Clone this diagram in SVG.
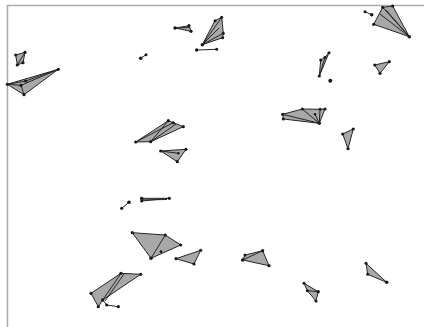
<svg xmlns="http://www.w3.org/2000/svg" width="424" height="327" viewBox="0 0 424 327">
<style>
.f{fill:#a8a8a8;stroke:#262626;stroke-width:1;stroke-linejoin:round}
.l{fill:none;stroke:#262626;stroke-width:1}
.d{fill:#1a1a1a}
.b{fill:none;stroke:#aaaaaa;stroke-width:1.5}
</style>
<rect width="424" height="327" fill="#fff"/>
<path class="b" d="M7.5,327 V5.5 H424"/>
<g id="n1"><polygon class="f" points="15.7,55 25,52.3 23,62.7 17.3,65"/><line class="l" x1="17.3" y1="65" x2="25" y2="52.3"/><g class="d"><circle cx="15.7" cy="55" r="1.6"/><circle cx="25" cy="52.3" r="1.6"/><circle cx="23" cy="62.7" r="1.6"/><circle cx="17.3" cy="65" r="1.6"/></g></g>
<g id="n2"><polygon class="f" points="7.3,84.3 58.3,69.3 24,94.7"/><polyline class="l" points="7.3,84.3 25.7,81 58.3,69.3"/><polyline class="l" points="7.3,84.3 21,85.3 58.3,69.3"/><line class="l" x1="21" y1="85.3" x2="24" y2="94.7"/><g class="d"><circle cx="7.3" cy="84.3" r="1.6"/><circle cx="58.3" cy="69.3" r="1.6"/><circle cx="24" cy="94.7" r="1.6"/><circle cx="25.7" cy="81" r="1.6"/><circle cx="21" cy="85.3" r="1.6"/></g></g>
<g id="n3"><line class="l" x1="140.7" y1="58.3" x2="146" y2="54.7"/><g class="d"><circle cx="140.7" cy="58.3" r="1.8"/><circle cx="146" cy="54.7" r="1.5"/></g></g>
<g id="n4"><polygon class="f" points="175,28 189,25.7 191,31.3"/><line class="l" x1="175" y1="28" x2="189" y2="27.5"/><g class="d"><circle cx="175" cy="28" r="1.7"/><circle cx="189" cy="25.7" r="1.6"/><circle cx="191" cy="31.3" r="1.6"/></g></g>
<g id="n5"><polygon class="f" points="202.3,44.7 215,20.7 221.7,17.3 223.3,33.3 222.7,37.7"/><line class="l" x1="202.3" y1="44.7" x2="221.7" y2="17.3"/><line class="l" x1="202.3" y1="44.7" x2="223.3" y2="33.3"/><line class="l" x1="202.3" y1="44.7" x2="219" y2="28"/><g class="d"><circle cx="202.3" cy="44.7" r="1.7"/><circle cx="215" cy="20.7" r="1.5"/><circle cx="221.7" cy="17.3" r="1.5"/><circle cx="223.3" cy="33.3" r="1.5"/><circle cx="222.7" cy="37.7" r="1.5"/></g></g>
<g id="n6"><line class="l" x1="196.7" y1="50" x2="216.7" y2="49.3"/><g class="d"><circle cx="196.7" cy="50" r="1.7"/><circle cx="216.7" cy="49.3" r="1.5"/></g></g>
<g id="n7"><polygon class="f" points="373.7,24.3 382.7,7.3 392.7,6 409.3,36.7"/><line class="l" x1="382.7" y1="7.3" x2="409.3" y2="36.7"/><line class="l" x1="386" y1="10" x2="409.3" y2="36.7"/><line class="l" x1="380" y1="14" x2="409.3" y2="36.7"/><g class="d"><circle cx="373.7" cy="24.3" r="1.6"/><circle cx="382.7" cy="7.3" r="1.6"/><circle cx="392.7" cy="6" r="1.6"/><circle cx="409.3" cy="36.7" r="1.8"/></g></g>
<g id="n8"><line class="l" x1="365" y1="11.7" x2="371.7" y2="14.7"/><g class="d"><circle cx="365" cy="11.7" r="1.5"/><circle cx="371.7" cy="14.7" r="1.8"/></g></g>
<g id="n9"><polygon class="f" points="319.3,76 320.7,60 325,57.3 329,52.7"/><line class="l" x1="319.3" y1="76" x2="325" y2="57.3"/><g class="d"><circle cx="319.3" cy="76" r="1.6"/><circle cx="320.7" cy="60" r="1.5"/><circle cx="325" cy="57.3" r="1.5"/><circle cx="329" cy="52.7" r="1.5"/></g></g>
<g id="n10"><circle class="d" cx="330.3" cy="80.7" r="2"/></g>
<g id="n11"><polygon class="f" points="374.7,65 389.3,61.7 380,73.3"/><g class="d"><circle cx="374.7" cy="65" r="1.6"/><circle cx="389.3" cy="61.7" r="1.6"/><circle cx="380" cy="73.3" r="1.6"/></g></g>
<g id="n12"><polygon class="f" points="135.7,142 168.3,120.7 173.3,122.7 183.3,126.7 150.7,141.7"/><line class="l" x1="135.7" y1="142" x2="173.3" y2="122.7"/><line class="l" x1="150.7" y1="141.7" x2="168.3" y2="120.7"/><line class="l" x1="150.7" y1="141.7" x2="176" y2="124"/><g class="d"><circle cx="135.7" cy="142" r="1.6"/><circle cx="150.7" cy="141.7" r="1.6"/><circle cx="168.3" cy="120.7" r="1.6"/><circle cx="173.3" cy="122.7" r="1.5"/><circle cx="183.3" cy="126.7" r="1.6"/></g></g>
<g id="n13"><polygon class="f" points="160.7,151 186,149.3 177.3,161.7"/><line class="l" x1="160.7" y1="151" x2="178.3" y2="153.3"/><g class="d"><circle cx="160.7" cy="151" r="1.6"/><circle cx="186" cy="149.3" r="1.6"/><circle cx="177.3" cy="161.7" r="1.6"/><circle cx="178.3" cy="153.3" r="1.3"/></g></g>
<g id="n14"><polygon class="f" points="282.7,114.3 302.3,109 320,109.3 325,109 319.3,123.3 283.3,119"/><line class="l" x1="302.3" y1="109" x2="319.3" y2="123.3"/><line class="l" x1="282.7" y1="114.3" x2="319.3" y2="123.3"/><line class="l" x1="320" y1="109.3" x2="319.3" y2="123.3"/><line class="l" x1="315" y1="114.3" x2="319.3" y2="123.3"/><g class="d"><circle cx="282.7" cy="114.3" r="1.6"/><circle cx="283.3" cy="119" r="1.5"/><circle cx="302.3" cy="109" r="1.5"/><circle cx="320" cy="109.3" r="1.5"/><circle cx="325" cy="109" r="1.6"/><circle cx="319.3" cy="123.3" r="1.7"/><circle cx="315" cy="114.3" r="1.3"/></g></g>
<g id="n15"><polygon class="f" points="342.7,134 353.3,129 348,148.7"/><g class="d"><circle cx="342.7" cy="134" r="1.6"/><circle cx="353.3" cy="129" r="1.6"/><circle cx="348" cy="148.7" r="1.6"/></g></g>
<g id="n16"><line class="l" x1="121.7" y1="208.3" x2="129" y2="202.3"/><g class="d"><circle cx="121.7" cy="208.3" r="1.6"/><circle cx="129" cy="202.3" r="1.8"/></g></g>
<g id="n17"><polygon class="f" points="141.7,198.3 169.3,198.3 141.7,201"/><line class="l" x1="141.7" y1="200" x2="167" y2="199.5"/><g class="d"><circle cx="141.7" cy="198.5" r="1.8"/><circle cx="141.7" cy="201" r="1.6"/><circle cx="169.3" cy="198.3" r="1.6"/></g></g>
<g id="n18"><polygon class="f" points="132.3,232.7 165.3,235 180.7,245 151,258.3"/><line class="l" x1="165.3" y1="235" x2="151" y2="258.3"/><g class="d"><circle cx="132.3" cy="232.7" r="1.6"/><circle cx="165.3" cy="235" r="1.6"/><circle cx="180.7" cy="245" r="1.6"/><circle cx="151" cy="258.3" r="1.8"/><circle cx="161" cy="251.7" r="1.4"/></g></g>
<g id="n19"><polygon class="f" points="176,258.7 200.7,250.3 194,264"/><g class="d"><circle cx="176" cy="258.7" r="1.6"/><circle cx="200.7" cy="250.3" r="1.6"/><circle cx="194" cy="264" r="1.6"/></g></g>
<g id="n20"><polygon class="f" points="91,293.3 121,273.3 140.7,274.3 102.7,300 98.3,306.7"/><line class="l" x1="121" y1="273.3" x2="102.7" y2="300"/><line class="l" x1="124" y1="274" x2="105" y2="301"/><polyline class="l" points="102.7,300 106.7,305 118.3,306.7"/><g class="d"><circle cx="91" cy="293.3" r="1.6"/><circle cx="121" cy="273.3" r="1.6"/><circle cx="140.7" cy="274.3" r="1.6"/><circle cx="102.7" cy="300" r="1.7"/><circle cx="98.3" cy="306.7" r="1.6"/><circle cx="106.7" cy="305" r="1.6"/><circle cx="118.3" cy="306.7" r="1.6"/></g></g>
<g id="n21"><polygon class="f" points="242.7,260 245,255 262.7,250.7 269,265.7"/><line class="l" x1="242.7" y1="260" x2="262.7" y2="250.7"/><g class="d"><circle cx="242.7" cy="260" r="1.8"/><circle cx="245" cy="255" r="1.5"/><circle cx="262.7" cy="250.7" r="1.6"/><circle cx="269" cy="265.7" r="1.6"/></g></g>
<g id="n22"><polygon class="f" points="304,283.3 318.3,291.7 316,301 307.3,290.7"/><line class="l" x1="307.3" y1="290.7" x2="318.3" y2="291.7"/><g class="d"><circle cx="304" cy="283.3" r="1.5"/><circle cx="307.3" cy="290.7" r="1.5"/><circle cx="318.3" cy="291.7" r="1.6"/><circle cx="316" cy="301" r="1.6"/></g></g>
<g id="n23"><polygon class="f" points="366,263.3 386.7,282.3 367.7,274.3"/><g class="d"><circle cx="366" cy="263.3" r="1.5"/><circle cx="367.7" cy="274.3" r="1.5"/><circle cx="386.7" cy="282.3" r="1.8"/></g></g>
</svg>
